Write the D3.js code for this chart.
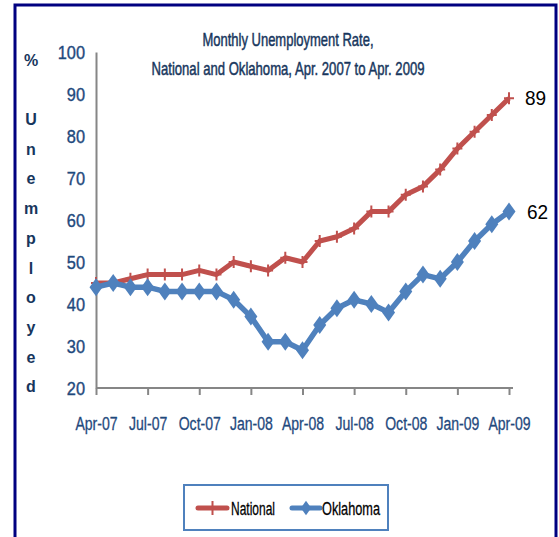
<!DOCTYPE html>
<html>
<head>
<meta charset="utf-8">
<script src="https://cdn.jsdelivr.net/npm/d3@7"></script>
<style>
  body { margin: 0; background: #fff; }
  svg { display: block; font-family: "Liberation Sans", Arial, sans-serif; }
</style>
</head>
<body>
<div id="chart"></div>
<script>
const width = 559
const height = 537

// data (rate x 10)
const months = ["Apr-07","May-07","Jun-07","Jul-07","Aug-07","Sep-07","Oct-07","Nov-07","Dec-07",
  "Jan-08","Feb-08","Mar-08","Apr-08","May-08","Jun-08","Jul-08","Aug-08","Sep-08","Oct-08",
  "Nov-08","Dec-08","Jan-09","Feb-09","Mar-09","Apr-09"]
const national = [45,45,46,47,47,47,48,47,50,49,48,51,50,55,56,58,62,62,66,68,72,77,81,85,89]
const oklahoma = [44,45,44,44,43,43,43,43,41,37,31,31,29,35,39,41,40,38,43,47,46,50,55,59,62]
const tickMonths = ["Apr-07","Jul-07","Oct-07","Jan-08","Apr-08","Jul-08","Oct-08","Jan-09","Apr-09"]
const yTicks = [20,30,40,50,60,70,80,90,100]
const yTitle = ["U","n","e","m","p","l","o","y","e","d"]

const svg = d3.select("#chart").append("svg")
  .attr("width", width)
  .attr("height", height)

// outer frame
svg.append("rect")
  .attr("x", 15).attr("y", 5)
  .attr("width", 541).attr("height", 600)
  .attr("fill", "none")
  .attr("stroke", "#000080")
  .attr("stroke-width", 3)

const x = d3.scaleLinear().domain([0, months.length - 1]).range([96, 509])
const y = d3.scaleLinear().domain([20, 100]).range([388, 52])

// squeeze text horizontally, the original font is very narrow
function squeeze(sel, k){
  sel.each(function(){
    const w = this.getComputedTextLength()
    d3.select(this).attr("textLength", w * k).attr("lengthAdjust", "spacingAndGlyphs")
  })
}

// a touch of outline, the original glyphs are heavier
function heavy(sel, color, w){
  sel.attr("stroke", color).attr("stroke-width", w).attr("paint-order", "stroke")
}

/* title */

const title = svg.append("g").attr("fill", "#17365D").attr("font-size", 19).attr("text-anchor", "middle")
  .call(heavy, "#17365D", 0.5)
title.append("text").attr("x", 288).attr("y", 46)
  .attr("textLength", 171).attr("lengthAdjust", "spacingAndGlyphs")
  .text("Monthly Unemployment Rate,")
title.append("text").attr("x", 288).attr("y", 75)
  .attr("textLength", 273).attr("lengthAdjust", "spacingAndGlyphs")
  .text("National and Oklahoma, Apr. 2007 to Apr. 2009")

/* y title, stacked letters */

const yt = svg.append("g").attr("fill", "#17365D").attr("font-size", 16)
  .attr("font-weight", "bold").attr("text-anchor", "middle")
yt.append("text").attr("x", 31).attr("y", 66).text("%")
yt.selectAll("text.l").data(yTitle).join("text")
  .attr("class", "l")
  .attr("x", 31)
  .attr("y", (d, i) => 125 + i * 29.7)
  .text(d => d)

/* axes */

const xAxis = svg.append("g")
  .attr("transform", "translate(0,388)")
  .call(d3.axisBottom(x)
    .tickValues(tickMonths.map(m => months.indexOf(m)))
    .tickFormat(i => months[i])
    .tickSize(7)
    .tickPadding(22)
    .tickSizeOuter(0))
xAxis.select(".domain").attr("stroke", "#868686").attr("stroke-width", 2)
  .attr("d", "M96,0H513")
xAxis.selectAll(".tick line").attr("stroke", "#868686").attr("stroke-width", 2)
xAxis.selectAll(".tick text")
  .attr("font-size", 18)
  .attr("font-family", "Liberation Sans, Arial, sans-serif")
  .attr("fill", "#1F497D")
  .call(heavy, "#1F497D", 0.3)
  .call(squeeze, 0.78)

const yAxis = svg.append("g")
  .attr("transform", "translate(96,0)")
  .call(d3.axisLeft(y).tickValues(yTicks).tickSize(0).tickPadding(11).tickFormat(d3.format("d")))
yAxis.select(".domain").attr("stroke", "#868686").attr("stroke-width", 2)
yAxis.selectAll(".tick text")
  .attr("font-size", 19)
  .attr("font-family", "Liberation Sans, Arial, sans-serif")
  .attr("fill", "#1F497D")
  .attr("dy", "0.36em")
  .call(heavy, "#1F497D", 0.4)
  .call(squeeze, 0.86)

/* series */

const line = d3.line().x((d, i) => x(i)).y(d => y(d))

const natColor = "#C0504D"
const okColor = "#4F81BD"

svg.append("path").datum(national)
  .attr("d", line)
  .attr("fill", "none")
  .attr("stroke", natColor)
  .attr("stroke-width", 5)
  .attr("stroke-linejoin", "round")

svg.append("g").selectAll("path").data(national).join("path")
  .attr("transform", (d, i) => `translate(${x(i)},${y(d)})`)
  .attr("d", "M-5,0H5M0,-6V6")
  .attr("stroke", natColor)
  .attr("stroke-width", 2)

svg.append("path").datum(oklahoma)
  .attr("d", line)
  .attr("fill", "none")
  .attr("stroke", okColor)
  .attr("stroke-width", 5.5)
  .attr("stroke-linejoin", "round")

const diamond = "M0,-9L6.5,0L0,9L-6.5,0Z"

svg.append("g").selectAll("path").data(oklahoma).join("path")
  .attr("transform", (d, i) => `translate(${x(i)},${y(d)})`)
  .attr("d", diamond)
  .attr("fill", okColor)

/* end labels */

const last = months.length - 1
svg.append("text").attr("x", 525).attr("y", y(national[last]) + 7)
  .attr("font-size", 20).attr("fill", "#000")
  .text(national[last]).call(squeeze, 0.95)
svg.append("text").attr("x", 527).attr("y", y(oklahoma[last]) + 7)
  .attr("font-size", 20).attr("fill", "#000")
  .text(oklahoma[last]).call(squeeze, 0.95)

/* legend */

const legend = svg.append("g")
legend.append("rect")
  .attr("x", 184).attr("y", 485)
  .attr("width", 204).attr("height", 45)
  .attr("fill", "#fff")
  .attr("stroke", okColor)
  .attr("stroke-width", 2)

legend.append("path").attr("d", "M198,508H227")
  .attr("stroke", natColor).attr("stroke-width", 5).attr("stroke-linecap", "round")
legend.append("path").attr("d", "M207,508H218M212.5,501V515")
  .attr("stroke", natColor).attr("stroke-width", 2)
legend.append("text").attr("x", 231).attr("y", 515)
  .attr("font-size", 19).attr("fill", "#000")
  .call(heavy, "#000", 0.3)
  .attr("textLength", 44).attr("lengthAdjust", "spacingAndGlyphs")
  .text("National")

legend.append("path").attr("d", "M292,508H320")
  .attr("stroke", okColor).attr("stroke-width", 5).attr("stroke-linecap", "round")
legend.append("path").attr("d", diamond)
  .attr("transform", "translate(306,508) scale(0.8)")
  .attr("fill", okColor)
legend.append("text").attr("x", 322).attr("y", 515)
  .attr("font-size", 19).attr("fill", "#000")
  .call(heavy, "#000", 0.3)
  .attr("textLength", 58).attr("lengthAdjust", "spacingAndGlyphs")
  .text("Oklahoma")
</script>
</body>
</html>
